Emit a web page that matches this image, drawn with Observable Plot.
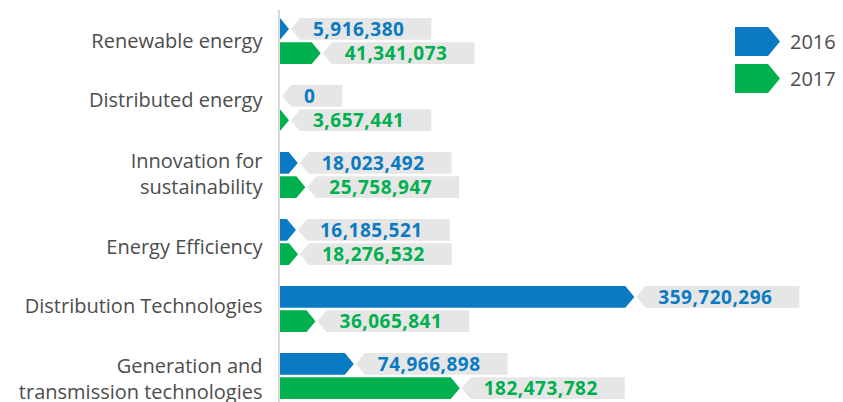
<!DOCTYPE html>
<html>
<head>
<meta charset="utf-8">
<script src="https://cdn.jsdelivr.net/npm/d3@7"></script>
<script src="https://cdn.jsdelivr.net/npm/@observablehq/plot@0.6"></script>
<style>
  html, body { margin: 0; padding: 0; background: #fff; }
  #wrap { position: relative; width: 843px; height: 402px; overflow: hidden; font-family: "Open Sans", sans-serif; }
</style>
</head>
<body>
<div id="wrap"></div>
<script>
const categories = [
  "Renewable energy",
  "Distributed energy",
  "Innovation for\nsustainability",
  "Energy Efficiency",
  "Distribution Technologies",
  "Generation and\ntransmission technologies"
];
const years = ["2016", "2017"];
const values2016 = [5916380, 0, 18023492, 16185521, 359720296, 74966898];
const values2017 = [41341073, 3657441, 25758947, 18276532, 36065841, 182473782];
const colors = ["#0a7bc2", "#00b04f"];

const data = categories.flatMap((c, i) => [
  {category: c, year: years[0], value: values2016[i]},
  {category: c, year: years[1], value: values2017[i]}
]);

const fmt = d3.format(",");
const measureCtx = document.createElement("canvas").getContext("2d");
measureCtx.font = "bold 19px 'Open Sans'";

function drawArrows(index, scales, values) {
  const g = d3.create("svg:g");
  const bw = scales.y && scales.y.bandwidth ? scales.y.bandwidth() : 46.5;
  const gap = 2.5;
  const barH = (bw - gap) / 2;
  const tip = 9;
  const x0 = scales.x(0);
  for (const i of index) {
    const d = data[i];
    const yTop = values.y[i] + (d.year === years[1] ? barH + gap : 0);
    const y1 = yTop, y2 = yTop + barH, ym = (y1 + y2) / 2;
    let tipX = x0;
    if (d.value > 0) {
      const xv = scales.x(d.value);
      tipX = Math.max(xv, x0 + tip);
      const bodyEnd = Math.max(x0, tipX - tip);
      g.append("path")
        .attr("d", `M${x0},${y1}L${bodyEnd},${y1}L${tipX},${ym}L${bodyEnd},${y2}L${x0},${y2}Z`)
        .attr("fill", values.fill[i]);
    }
    const label = fmt(d.value);
    const tw = measureCtx.measureText(label).width + label.length * 0.5;
    const gx = tipX + 2;
    const w = tw + 49;
    g.append("path")
      .attr("d", `M${gx},${ym}L${gx + tip},${y1}L${gx + w},${y1}L${gx + w},${y2}L${gx + tip},${y2}Z`)
      .attr("fill", "#e6e6e6");
    g.append("text")
      .attr("x", gx + 22)
      .attr("y", ym)
      .attr("dy", "0.36em")
      .attr("text-anchor", "start")
      .attr("fill", values.fill[i])
      .attr("font-family", "'Open Sans'")
      .attr("font-weight", "bold")
      .attr("font-size", 19)
      .attr("letter-spacing", 0.5)
      .text(label);
  }
  return g.node();
}

// small vertical nudges of the category labels, as placed in the original design
const labelNudge = [-2, -10, -3, 3, -5, 1];

const chart = Plot.plot({
  width: 843,
  height: 402,
  marginLeft: 280,
  marginRight: 0,
  marginTop: 10,
  marginBottom: 0,
  x: {domain: [0, 360e6], range: [280, 280 + 0.985 * 360], axis: null},
  y: {domain: categories, range: [18, 402], paddingInner: 0.311, paddingOuter: 0, align: 0, label: null, axis: null},
  color: {domain: years, range: colors},
  style: {fontFamily: "'Open Sans'", fontSize: "20px", color: "#4d4d4d", background: "white", overflow: "visible"},
  marks: [
    Plot.ruleX([0], {stroke: "#d9d9d9", strokeWidth: 2, dx: -1.5}),
    ...categories.map((c, i) => Plot.text([c], {
      x: () => 0, y: (d) => d, text: (d) => d,
      dx: -18, dy: labelNudge[i], textAnchor: "end", lineAnchor: "middle",
      lineHeight: 1.3, fontSize: 20, fill: "#4d4d4d"
    })),
    Plot.barX(data, {x1: () => 0, x2: "value", y: "category", fill: "year", render: drawArrows})
  ]
});

const wrap = document.getElementById("wrap");
wrap.appendChild(chart);

// legend
const legend = d3.create("svg")
  .attr("width", 110)
  .attr("height", 75)
  .style("position", "absolute")
  .style("left", "733px")
  .style("top", "25px");
years.forEach((yr, k) => {
  const yy = 2 + k * 37;
  legend.append("path")
    .attr("d", `M2,${yy}L35,${yy}L47,${yy + 14.5}L35,${yy + 29}L2,${yy + 29}Z`)
    .attr("fill", colors[k]);
  legend.append("text")
    .attr("x", 57)
    .attr("y", yy + 14.5)
    .attr("dy", "0.36em")
    .attr("fill", "#4d4d4d")
    .attr("font-family", "'Open Sans'")
    .attr("font-size", 20)
    .text(yr);
});
wrap.appendChild(legend.node());
</script>
</body>
</html>
